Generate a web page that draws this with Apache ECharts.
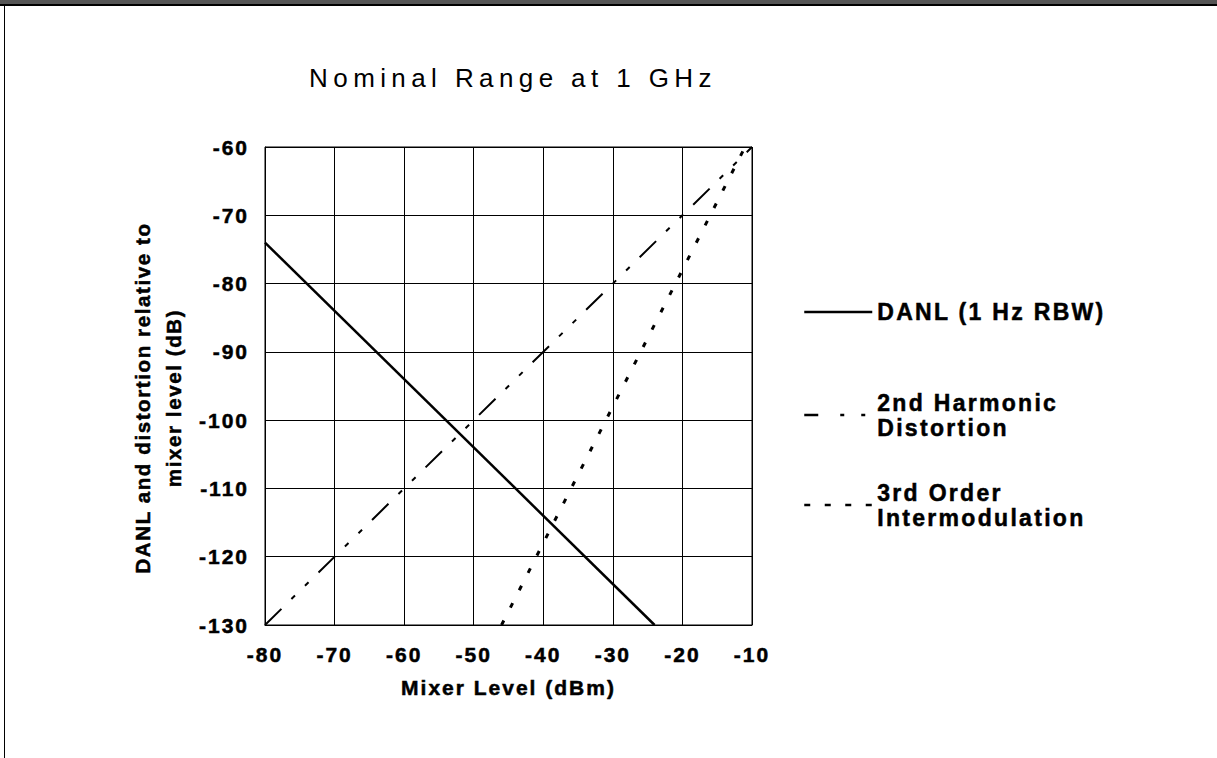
<!DOCTYPE html>
<html>
<head>
<meta charset="utf-8">
<script src="https://cdn.jsdelivr.net/npm/echarts@6/dist/echarts.min.js"></script>
<style>
  html, body { margin: 0; padding: 0; background: #fff; }
  #page { position: relative; width: 1217px; height: 758px; overflow: hidden; }
  #band { position: absolute; left: 0; top: 0; width: 1217px; height: 4px; background: #555; }
  #rule { position: absolute; left: 0; top: 4px; width: 1217px; height: 2px; background: #000; }
  #edge { position: absolute; left: 4px; top: 4px; width: 1px; height: 754px; background: #000; }
  #chart { position: absolute; left: 0; top: 0; width: 1217px; height: 758px; }
  /* the reference text is set with loose letter spacing */
  #chart text { letter-spacing: 2px; }
  #chart text[style*="20.5px"] { letter-spacing: 1.6px; }
  #chart text[style*="23px"] { letter-spacing: 2.3px; }
  #chart text[style*="26px"] { letter-spacing: 5.4px; }
</style>
</head>
<body>
<div id="page">
  <div id="band"></div>
  <div id="rule"></div>
  <div id="edge"></div>
  <div id="chart"></div>
</div>
<script>
// mixer level (dBm) -> level relative to mixer level (dB)
const danlLevel = [-80, -24];
const danlValue = [-74, -130];

const harmonicLevel = [-80, -10];
const harmonicValue = [-130, -60];

const imdLevel = [-46, -11];
const imdValue = [-130, -60];

const seriesNames = ['DANL (1 Hz RBW)', '2nd Harmonic Distortion', '3rd Order Intermodulation'];
const legendLabels = {
  'DANL (1 Hz RBW)': 'DANL (1 Hz RBW)',
  '2nd Harmonic Distortion': '2nd Harmonic\nDistortion',
  '3rd Order Intermodulation': '3rd Order\nIntermodulation',
};

function pairs(xs, ys) {
  return xs.map((x, i) => [x, ys[i]]);
}

const font = '"Liberation Sans", Arial, Helvetica, sans-serif';

// bold text in the scan is a bit heavier than the font, so add a thin outline
const boldText = {
  fontFamily: font,
  fontWeight: 'bold',
  fontSize: 21,
  color: '#000',
  textBorderColor: '#000',
  textBorderWidth: 0.5,
};

const legendText = {
  fontFamily: font,
  fontWeight: 'bold',
  fontSize: 23,
  lineHeight: 25,
  color: '#000',
  textBorderColor: '#000',
  textBorderWidth: 0.5,
};

const legendBase = {
  orient: 'vertical',
  left: 803,
  padding: 0,
  itemWidth: 68,
  itemHeight: 14,
  selectedMode: false,
  itemStyle: { opacity: 0, borderWidth: 0 },
  formatter: (name) => legendLabels[name],
};

const chart = echarts.init(document.getElementById('chart'), null, { renderer: 'svg' });

chart.setOption({
  animation: false,
  backgroundColor: 'transparent',
  title: {
    text: 'Nominal Range at 1 GHz',
    left: 513,
    top: 65,
    padding: 0,
    textAlign: 'center',
    textStyle: {
      fontFamily: font,
      fontWeight: 'normal',
      fontSize: 26,
      lineHeight: 26,
      color: '#000',
    },
  },
  legend: [
    {
      ...legendBase,
      data: [seriesNames[0]],
      top: 299.5,
      textStyle: legendText,
      lineStyle: { width: 2.5, type: 'solid' },
    },
    {
      ...legendBase,
      data: [seriesNames[1]],
      top: 377.5,
      textStyle: { ...legendText, padding: [25, 0, 0, 0] },
      lineStyle: { width: 2.5, type: [14, 22, 4, 17, 4, 20] },
    },
    {
      ...legendBase,
      data: [seriesNames[2]],
      top: 467.5,
      textStyle: { ...legendText, padding: [25, 0, 0, 0] },
      lineStyle: { width: 2.5, type: [6, 14.5] },
    },
  ],
  grid: {
    left: 265,
    top: 147,
    width: 487,
    height: 478,
    show: true,
    borderColor: '#000',
    borderWidth: 1,
    containLabel: false,
  },
  xAxis: {
    type: 'value',
    min: -80,
    max: -10,
    interval: 10,
    name: 'Mixer Level (dBm)',
    nameLocation: 'middle',
    nameGap: 52,
    nameTextStyle: boldText,
    axisLine: { show: true, lineStyle: { color: '#000', width: 1 } },
    axisTick: { show: false },
    axisLabel: { ...boldText, margin: 19 },
    splitLine: { show: true, lineStyle: { color: '#000', width: 1 } },
  },
  yAxis: {
    type: 'value',
    min: -130,
    max: -60,
    interval: 10,
    name: 'DANL and distortion relative to\nmixer level (dB)',
    nameLocation: 'middle',
    nameGap: 76,
    nameTextStyle: { ...boldText, fontSize: 20.5, lineHeight: 31, padding: [0, 24, 0, 0] },
    axisLine: { show: true, lineStyle: { color: '#000', width: 1 } },
    axisTick: { show: false },
    axisLabel: { ...boldText, margin: 16 },
    splitLine: { show: true, lineStyle: { color: '#000', width: 1 } },
  },
  series: [
    {
      name: seriesNames[0],
      type: 'line',
      data: pairs(danlLevel, danlValue),
      symbol: 'none',
      silent: true,
      lineStyle: { color: '#000', width: 2.5, type: 'solid' },
      itemStyle: { color: '#000' },
    },
    {
      name: seriesNames[1],
      type: 'line',
      data: pairs(harmonicLevel, harmonicValue),
      symbol: 'none',
      silent: true,
      lineStyle: { color: '#000', width: 2, type: [23, 14, 5, 14, 5, 14] },
      itemStyle: { color: '#000' },
    },
    {
      name: seriesNames[2],
      type: 'line',
      data: pairs(imdLevel, imdValue),
      symbol: 'none',
      silent: true,
      lineStyle: { color: '#000', width: 3, type: [5, 14.5] },
      itemStyle: { color: '#000' },
    },
  ],
});
</script>
</body>
</html>
